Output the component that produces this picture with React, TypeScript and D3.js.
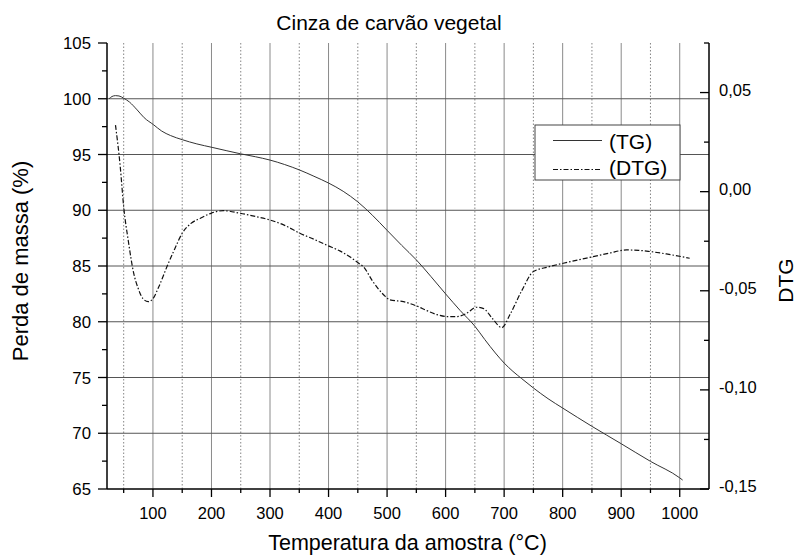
import React from 'react';
import * as d3 from 'd3';

const tgTemp = [25, 30, 36, 42, 50, 60, 73, 85, 101, 115, 130, 150, 175, 201, 225, 249, 275, 300, 325, 351, 375, 400, 425, 450, 475, 500, 525, 550, 575, 600, 625, 650, 667, 685, 700, 715, 730, 750, 775, 800, 850, 900, 950, 1000, 1005];
const tgMass = [100.0, 100.2, 100.28, 100.25, 100.05, 99.7, 99.0, 98.3, 97.67, 97.1, 96.7, 96.33, 95.95, 95.64, 95.35, 95.07, 94.8, 94.5, 94.1, 93.6, 93.05, 92.44, 91.7, 90.75, 89.55, 88.2, 86.85, 85.55, 84.05, 82.5, 81.0, 79.6, 78.4, 77.2, 76.3, 75.55, 74.9, 74.06, 73.1, 72.26, 70.62, 69.06, 67.48, 66.0, 65.8];

const dtgTemp = [36, 44, 50, 58, 67, 75, 83, 92, 100, 110, 124, 137, 150, 165, 181, 200, 220, 249, 275, 300, 325, 351, 375, 397, 420, 437, 451, 460, 475, 494, 505, 528, 550, 568, 585, 602, 620, 635, 653, 665, 680, 696, 710, 730, 750, 775, 801, 825, 852, 880, 909, 930, 949, 977, 1017];
const dtgValue = [0.0336, 0.013, -0.0076, -0.025, -0.041, -0.049, -0.054, -0.0555, -0.054, -0.048, -0.0378, -0.029, -0.021, -0.016, -0.0134, -0.0108, -0.0096, -0.0109, -0.0125, -0.0143, -0.017, -0.021, -0.024, -0.027, -0.03, -0.033, -0.036, -0.038, -0.045, -0.052, -0.0546, -0.0555, -0.0576, -0.06, -0.062, -0.063, -0.063, -0.0615, -0.0583, -0.059, -0.064, -0.0686, -0.062, -0.05, -0.0403, -0.038, -0.0361, -0.0345, -0.0328, -0.031, -0.0294, -0.0296, -0.0302, -0.0314, -0.0336];

const xMajorTicks = [100, 200, 300, 400, 500, 600, 700, 800, 900, 1000];
const xMinorTicks = [50, 150, 250, 350, 450, 550, 650, 750, 850, 950];
const leftTicks = [65, 70, 75, 80, 85, 90, 95, 100, 105];
const leftMinorTicks = [67.5, 72.5, 77.5, 82.5, 87.5, 92.5, 97.5, 102.5];
const gridYTicks = [70, 75, 80, 85, 90, 95, 100];
const rightTicks = [-0.15, -0.1, -0.05, 0, 0.05];
const rightLabels = ['-0,15', '-0,10', '-0,05', '0,00', '0,05'];
const rightMinorTicks = [-0.125, -0.075, -0.025, 0.025, 0.075];

const title = 'Cinza de carvão vegetal';
const xTitle = 'Temperatura da amostra (°C)';
const yTitle = 'Perda de massa (%)';
const y2Title = 'DTG';
const legendLabels = ['(TG)', '(DTG)'];

const W = 796;
const H = 556;
const L = 107;
const R = 709;
const T = 43;
const B = 489;
const FONT = '"Liberation Sans", Arial, sans-serif';
const DASH = '5,2,1.5,2';

export default function App() {
  const x = d3.scaleLinear().domain([21.5, 1050]).range([L, R]);
  const yL = d3.scaleLinear().domain([65, 105]).range([B, T]);
  const yR = d3.scaleLinear().domain([-0.15, 0.075]).range([B, T]);

  const tgLine = d3
    .line<number>()
    .x((_, i) => x(tgTemp[i]))
    .y((d) => yL(d))
    .curve(d3.curveMonotoneX);
  const dtgLine = d3
    .line<number>()
    .x((_, i) => x(dtgTemp[i]))
    .y((d) => yR(d))
    .curve(d3.curveMonotoneX);

  return (
    <svg
      width={W}
      height={H}
      style={{ position: 'absolute', left: 0, top: 0, background: '#fff' }}
      fontFamily={FONT}
    >
      <rect x={0} y={0} width={W} height={H} fill="#fff" />
      {/* grid */}
      {xMinorTicks.map((t) => (
        <line key={'xm' + t} x1={x(t)} x2={x(t)} y1={T} y2={B} stroke="#666" strokeWidth={0.8} strokeDasharray="1.5,2" />
      ))}
      {xMajorTicks.map((t) => (
        <line key={'xg' + t} x1={x(t)} x2={x(t)} y1={T} y2={B} stroke="#8a8a8a" strokeWidth={1} />
      ))}
      {gridYTicks.map((t) => (
        <line key={'yg' + t} x1={L} x2={R} y1={yL(t)} y2={yL(t)} stroke="#555" strokeWidth={1} />
      ))}

      {/* data */}
      <path d={tgLine(tgMass) || ''} fill="none" stroke="#333" strokeWidth={1} />
      <path d={dtgLine(dtgValue) || ''} fill="none" stroke="#111" strokeWidth={1.2} strokeDasharray={DASH} />

      {/* legend */}
      <rect x={535} y={125} width={145} height={55} fill="#fff" stroke="#444" strokeWidth={1} />
      <line x1={553} x2={602} y1={140.5} y2={140.5} stroke="#333" strokeWidth={1} />
      <line x1={553} x2={602} y1={169.5} y2={169.5} stroke="#111" strokeWidth={1.2} strokeDasharray={DASH} />
      <text x={609} y={148.5} fontSize={21} fill="#000">{legendLabels[0]}</text>
      <text x={609} y={174.5} fontSize={21} fill="#000">{legendLabels[1]}</text>

      {/* axes */}
      <line x1={L} x2={L} y1={T} y2={B} stroke="#000" strokeWidth={1.5} />
      <line x1={L} x2={R} y1={B} y2={B} stroke="#000" strokeWidth={1.5} />
      <line x1={R} x2={R} y1={T} y2={B} stroke="#000" strokeWidth={1.5} />

      {leftTicks.map((t) => (
        <g key={'lt' + t}>
          <line x1={L - 9} x2={L} y1={yL(t)} y2={yL(t)} stroke="#000" strokeWidth={1.3} />
          <text x={91} y={yL(t)} dy="0.36em" textAnchor="end" fontSize={16.8} fill="#000">{t}</text>
        </g>
      ))}
      {leftMinorTicks.map((t) => (
        <line key={'lm' + t} x1={L - 5} x2={L} y1={yL(t)} y2={yL(t)} stroke="#000" strokeWidth={1.3} />
      ))}

      {xMajorTicks.map((t) => (
        <g key={'bt' + t}>
          <line x1={x(t)} x2={x(t)} y1={B} y2={B + 8} stroke="#000" strokeWidth={1.3} />
          <text x={x(t)} y={518.5} textAnchor="middle" fontSize={16.5} fill="#000">{t}</text>
        </g>
      ))}
      {xMinorTicks.map((t) => (
        <line key={'bm' + t} x1={x(t)} x2={x(t)} y1={B} y2={B + 4} stroke="#000" strokeWidth={1.3} />
      ))}

      {rightTicks.map((t, i) => (
        <g key={'rt' + t}>
          <line x1={R - 9} x2={R} y1={yR(t)} y2={yR(t)} stroke="#000" strokeWidth={1.3} />
          <text x={719} y={yR(t)} dy="0.2em" fontSize={16.5} fill="#000">{rightLabels[i]}</text>
        </g>
      ))}
      {rightMinorTicks.map((t) => (
        <line key={'rm' + t} x1={R - 5} x2={R} y1={yR(t)} y2={yR(t)} stroke="#000" strokeWidth={1.3} />
      ))}

      {/* titles */}
      <text x={389} y={30} textAnchor="middle" fontSize={21} fill="#000">{title}</text>
      <text x={407.5} y={550} textAnchor="middle" fontSize={21.5} fill="#000">{xTitle}</text>
      <text transform="translate(28.3,261) rotate(-90)" textAnchor="middle" fontSize={22} fill="#000">{yTitle}</text>
      <text transform="translate(793,280.5) rotate(-90)" textAnchor="middle" fontSize={21} fill="#000">{y2Title}</text>
    </svg>
  );
}
